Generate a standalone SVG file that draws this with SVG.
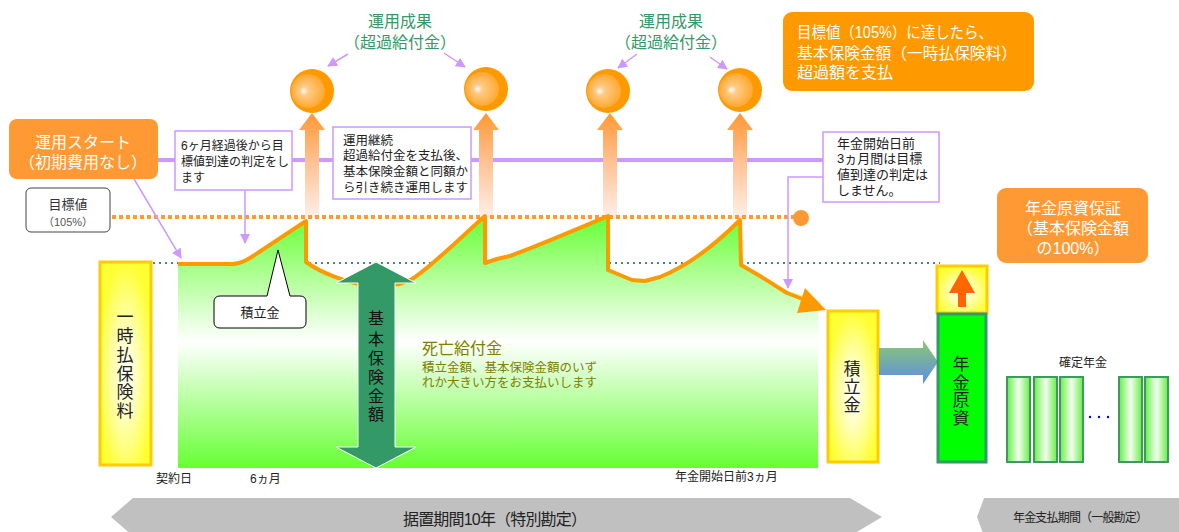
<svg xmlns="http://www.w3.org/2000/svg" width="1179" height="532" viewBox="0 0 1179 532">
<style>
.jp{font-family:"Liberation Sans","Noto Sans CJK JP",sans-serif}
.w{fill:#fff}
.blk{fill:#222}
.grn{fill:#339966}
.olv{fill:#808000}
.note{fill:#fff;stroke:#cc99ff;stroke-width:1.5}
.pl{stroke:#cc99ff;stroke-width:1.5;fill:none}
.ybar{fill:url(#yel);stroke:#ffcc00;stroke-width:3}
.gbar{fill:url(#gb);stroke:#3c9a5c;stroke-width:2}
.up{fill:url(#upg)}
</style>
<defs>
<marker id="pa" viewBox="0 0 10 10" refX="9" refY="5" markerWidth="10" markerHeight="10" markerUnits="userSpaceOnUse" orient="auto">
<path d="M0,0 L10,5 L0,10 Z" fill="#cc99ff"/>
</marker>
<linearGradient id="area" gradientUnits="userSpaceOnUse" x1="0" y1="215" x2="0" y2="468">
<stop offset="0" stop-color="#66ff33"/>
<stop offset="0.5" stop-color="#ffffff"/>
<stop offset="1" stop-color="#66ff33"/>
</linearGradient>
<linearGradient id="upg" gradientUnits="userSpaceOnUse" x1="0" y1="113" x2="0" y2="218">
<stop offset="0" stop-color="#ff9933"/>
<stop offset="0.45" stop-color="#ffc090"/>
<stop offset="1" stop-color="#fff0ea"/>
</linearGradient>
<radialGradient id="ball" cx="0.5" cy="0.5" r="0.5" fx="0.35" fy="0.5">
<stop offset="0" stop-color="#ffffff"/>
<stop offset="0.25" stop-color="#ffcc88"/>
<stop offset="1" stop-color="#ffa830"/>
</radialGradient>
<radialGradient id="yel" cx="0.5" cy="0.55" r="0.55">
<stop offset="0" stop-color="#ffffff"/>
<stop offset="0.45" stop-color="#ffffb0"/>
<stop offset="1" stop-color="#ffff33"/>
</radialGradient>
<linearGradient id="gb" x1="0" y1="0" x2="1" y2="0">
<stop offset="0" stop-color="#66ee44"/>
<stop offset="0.5" stop-color="#f4fff0"/>
<stop offset="1" stop-color="#66ee44"/>
</linearGradient>
<linearGradient id="bg" x1="0" y1="0" x2="0" y2="1">
<stop offset="0" stop-color="#8cc870"/>
<stop offset="1" stop-color="#5b8ee6"/>
</linearGradient>
<g id="ballg">
<circle cx="0" cy="0" r="22" fill="#ff9900"/>
<circle cx="-4" cy="0" r="17" fill="url(#ball)"/>
</g>
<path id="uparrow" d="M-7,218 L-7,130 L-13,130 L0,113 L13,130 L7,130 L7,218 Z"/>
</defs>

<!-- base lines -->
<g id="baselines">
<line x1="157" y1="160" x2="823" y2="160" stroke="#cc99ff" stroke-width="4"/>
<line x1="105" y1="263" x2="940" y2="263" stroke="#339966" stroke-width="2" stroke-dasharray="2 4"/>
</g>

<!-- green area -->
<g id="area-fill">
<path d="M178,264 L232,264 C240,264 245,261 250,258 L306,221 L306,262 C320,272 345,283 372,286 L400,284 L412,279 C430,268 460,238 485,216 L485,263 L497,259 L510,256 C540,245 575,230 608,216 L608,270 L632,280 L645,281 L660,277 C690,265 715,245 740,220 L741,265 L760,276 L785,290 L818,300 L818,468 L178,468 Z" fill="url(#area)"/>
</g>

<!-- up arrows -->
<g id="up-arrows">
<use href="#uparrow" x="312" class="up"/>
<use href="#uparrow" x="486" class="up"/>
<use href="#uparrow" x="610" class="up"/>
<use href="#uparrow" x="740" class="up"/>
</g>

<g id="target-line">
<line x1="112" y1="217" x2="795" y2="217" stroke="#ff9933" stroke-width="4" stroke-dasharray="4 3"/>
<circle cx="801" cy="218" r="8" fill="#ff9933"/>
</g>

<!-- orange curve -->
<g id="curve">
<path d="M178,264 L232,264 C240,264 245,261 250,258 L306,221 L306,262 C320,272 345,283 372,286 L400,284 L412,279 C430,268 460,238 485,216 L485,263 L497,259 L510,256 C540,245 575,230 608,216 L608,270 L632,280 L645,281 L660,277 C690,265 715,245 740,220 L741,265 L760,276 L787,293 L805,300" fill="none" stroke="#ff9900" stroke-width="4" stroke-linejoin="round"/>
<polygon points="826,310 797,313 805,288" fill="#ff9900"/>
</g>

<!-- balls -->
<g id="balls">
<use href="#ballg" x="312" y="91"/>
<use href="#ballg" x="486" y="89"/>
<use href="#ballg" x="608" y="91"/>
<use href="#ballg" x="740" y="90"/>
</g>

<!-- connectors -->
<g id="connectors">
<line x1="348" y1="54" x2="328" y2="66" class="pl" marker-end="url(#pa)"/>
<line x1="444" y1="53" x2="465" y2="67" class="pl" marker-end="url(#pa)"/>
<line x1="637" y1="54" x2="618" y2="68" class="pl" marker-end="url(#pa)"/>
<line x1="710" y1="57" x2="727" y2="69" class="pl" marker-end="url(#pa)"/>
<line x1="134" y1="179" x2="181" y2="258" class="pl" marker-end="url(#pa)"/>
<line x1="245" y1="190" x2="245" y2="243" class="pl" marker-end="url(#pa)"/>
<polyline points="823,177 788,177 788,288" class="pl" marker-end="url(#pa)"/>
</g>

<!-- labels 運用成果 -->
<g id="label-result1">
<text x="400" y="27" text-anchor="middle" class="jp grn" font-size="16">運用成果</text>
<text x="400" y="48" text-anchor="middle" class="jp grn" font-size="16">（超過給付金）</text>
</g>
<g id="label-result2">
<text x="671" y="27" text-anchor="middle" class="jp grn" font-size="16">運用成果</text>
<text x="671" y="48" text-anchor="middle" class="jp grn" font-size="16">（超過給付金）</text>
</g>

<!-- start box -->
<g id="start-box">
<rect x="9" y="119" width="149" height="60" rx="8" fill="#ff9933"/>
<text x="83" y="148" text-anchor="middle" class="jp w" font-size="16">運用スタート</text>
<text x="83" y="168" text-anchor="middle" class="jp w" font-size="16">（初期費用なし）</text>
</g>

<!-- note 6 months -->
<g id="note-6m">
<rect x="175" y="131" width="117" height="59" class="note"/>
<text class="jp blk" font-size="12"><tspan x="181" y="150">6ヶ月経過後から目</tspan><tspan x="181" y="166">標値到達の判定をし</tspan><tspan x="181" y="182">ます</tspan></text>
</g>

<!-- note continue -->
<g id="note-continue">
<rect x="333" y="127" width="138" height="72" class="note"/>
<text class="jp blk" font-size="12.5"><tspan x="343" y="145">運用継続</tspan><tspan x="343" y="160">超過給付金を支払後、</tspan><tspan x="343" y="176">基本保険金額と同額か</tspan><tspan x="343" y="192">ら引き続き運用します</tspan></text>
</g>

<!-- note pension start -->
<g id="note-3m">
<rect x="823" y="132" width="116" height="70" class="note"/>
<text class="jp blk" font-size="13"><tspan x="837" y="148">年金開始日前</tspan><tspan x="837" y="163">3ヵ月間は目標</tspan><tspan x="837" y="179">値到達の判定は</tspan><tspan x="837" y="195">しません。</tspan></text>
</g>

<!-- target box top right -->
<g id="target-box">
<rect x="783" y="12" width="251" height="79" rx="9" fill="#ff9900"/>
<text x="797" y="38" class="jp w" font-size="16" textLength="196" lengthAdjust="spacingAndGlyphs">目標値（105%）に達したら、</text>
<text x="797" y="59" class="jp w" font-size="16" textLength="220" lengthAdjust="spacingAndGlyphs">基本保険金額（一時払保険料）</text>
<text x="797" y="78" class="jp w" font-size="16">超過額を支払</text>
</g>

<!-- guarantee box -->
<g id="guarantee-box">
<rect x="997" y="188" width="151" height="75" rx="9" fill="#ff9933"/>
<text text-anchor="middle" class="jp w" font-size="16"><tspan x="1073" y="214">年金原資保証</tspan><tspan x="1073" y="234">（基本保険金額</tspan><tspan x="1073" y="254">の100%）</tspan></text>
</g>

<!-- target value label -->
<g id="target-label">
<rect x="26" y="188" width="84" height="44" rx="5" fill="#fff" stroke="#444" stroke-width="1"/>
<text x="68" y="209" text-anchor="middle" class="jp" fill="#333" font-size="13">目標値</text>
<text x="68" y="226" text-anchor="middle" class="jp" fill="#555" font-size="11">（105%）</text>
</g>

<!-- single premium bar -->
<g id="premium-bar">
<rect x="100" y="262" width="51" height="203" class="ybar"/>
<text text-anchor="middle" class="jp blk" font-size="17"><tspan x="125" y="323">一</tspan><tspan x="125" y="342">時</tspan><tspan x="125" y="361">払</tspan><tspan x="125" y="380">保</tspan><tspan x="125" y="398">険</tspan><tspan x="125" y="417">料</tspan></text>
</g>

<!-- accumulated callout -->
<g id="callout-accum">
<path d="M220,296 L267,296 L278,250 L290,296 L300,296 Q306,296 306,302 L306,322 Q306,328 300,328 L220,328 Q214,328 214,322 L214,302 Q214,296 220,296 Z" fill="#fff" stroke="#000" stroke-width="1"/>
<text x="260" y="317" text-anchor="middle" class="jp blk" font-size="13">積立金</text>
</g>

<!-- basic amount double arrow -->
<g id="basic-amount">
<path d="M376,262 L416,283 L395,283 L395,447 L416,447 L376,468 L336,447 L358,447 L358,283 L336,283 Z" fill="#339966" stroke="#ffffff" stroke-width="1"/>
<text text-anchor="middle" class="jp" fill="#111" font-size="16"><tspan x="376" y="324">基</tspan><tspan x="376" y="345">本</tspan><tspan x="376" y="364">保</tspan><tspan x="376" y="383">険</tspan><tspan x="376" y="402">金</tspan><tspan x="376" y="420">額</tspan></text>
</g>

<!-- death benefit -->
<g id="death-benefit">
<text x="422" y="354" class="jp olv" font-size="16">死亡給付金</text>
<text x="422" y="372" class="jp olv" font-size="12.5">積立金額、基本保険金額のいず</text>
<text x="422" y="387" class="jp olv" font-size="12.5">れか大きい方をお支払いします</text>
</g>

<!-- accumulated bar -->
<g id="accum-bar">
<rect x="828" y="311" width="50" height="151" class="ybar"/>
<text text-anchor="middle" class="jp blk" font-size="17"><tspan x="852" y="375">積</tspan><tspan x="852" y="393">立</tspan><tspan x="852" y="411">金</tspan></text>
</g>

<!-- transfer arrow -->
<g id="transfer-arrow">
<path d="M879,348 L923,348 L923,340 L938,362 L923,384 L923,375 L879,375 Z" fill="url(#bg)"/>
</g>

<!-- pension fund -->
<g id="pension-fund">
<rect x="937" y="266" width="50" height="47" class="ybar"/>
<path d="M962,270 L975,293 L966,293 L966,307 L958,307 L958,293 L949,293 Z" fill="#ff6600"/>
<rect x="938" y="314" width="48" height="148" fill="#00ff00" stroke="#339966" stroke-width="3"/>
<text text-anchor="middle" class="jp blk" font-size="17"><tspan x="961" y="370">年</tspan><tspan x="961" y="389">金</tspan><tspan x="961" y="406">原</tspan><tspan x="961" y="424">資</tspan></text>
</g>

<!-- fixed pension -->
<g id="fixed-pension">
<text x="1083" y="367" text-anchor="middle" class="jp blk" font-size="12">確定年金</text>
<rect x="1007" y="377" width="23" height="85" class="gbar"/>
<rect x="1034" y="377" width="23" height="85" class="gbar"/>
<rect x="1060" y="377" width="23" height="85" class="gbar"/>
<rect x="1119" y="377" width="23" height="85" class="gbar"/>
<rect x="1145" y="377" width="23" height="85" class="gbar"/>
<circle cx="1090" cy="417" r="1.2" fill="#0000ff"/>
<circle cx="1099" cy="417" r="1.2" fill="#0000ff"/>
<circle cx="1108" cy="417" r="1.2" fill="#0000ff"/>
</g>

<!-- time labels -->
<g id="time-labels">
<text x="156" y="483" class="jp blk" font-size="12">契約日</text>
<text x="250" y="483" class="jp blk" font-size="12">6ヵ月</text>
<text x="675" y="481" class="jp blk" font-size="12">年金開始日前3ヵ月</text>
</g>

<!-- period bars -->
<g id="period-deferral">
<polygon points="133,498 850,498 882,517 850,536 133,536 111,517" fill="#c0c0c0"/>
<text x="403" y="525" class="jp" fill="#222" font-size="16" textLength="184" lengthAdjust="spacing">据置期間10年（特別勘定）</text>
</g>
<g id="period-payment">
<polygon points="984,498 1179,498 1179,536 984,536 977,517" fill="#c0c0c0"/>
<text x="1013" y="522" class="jp" fill="#222" font-size="12" textLength="135" lengthAdjust="spacing">年金支払期間（一般勘定）</text>
</g>
</svg>
